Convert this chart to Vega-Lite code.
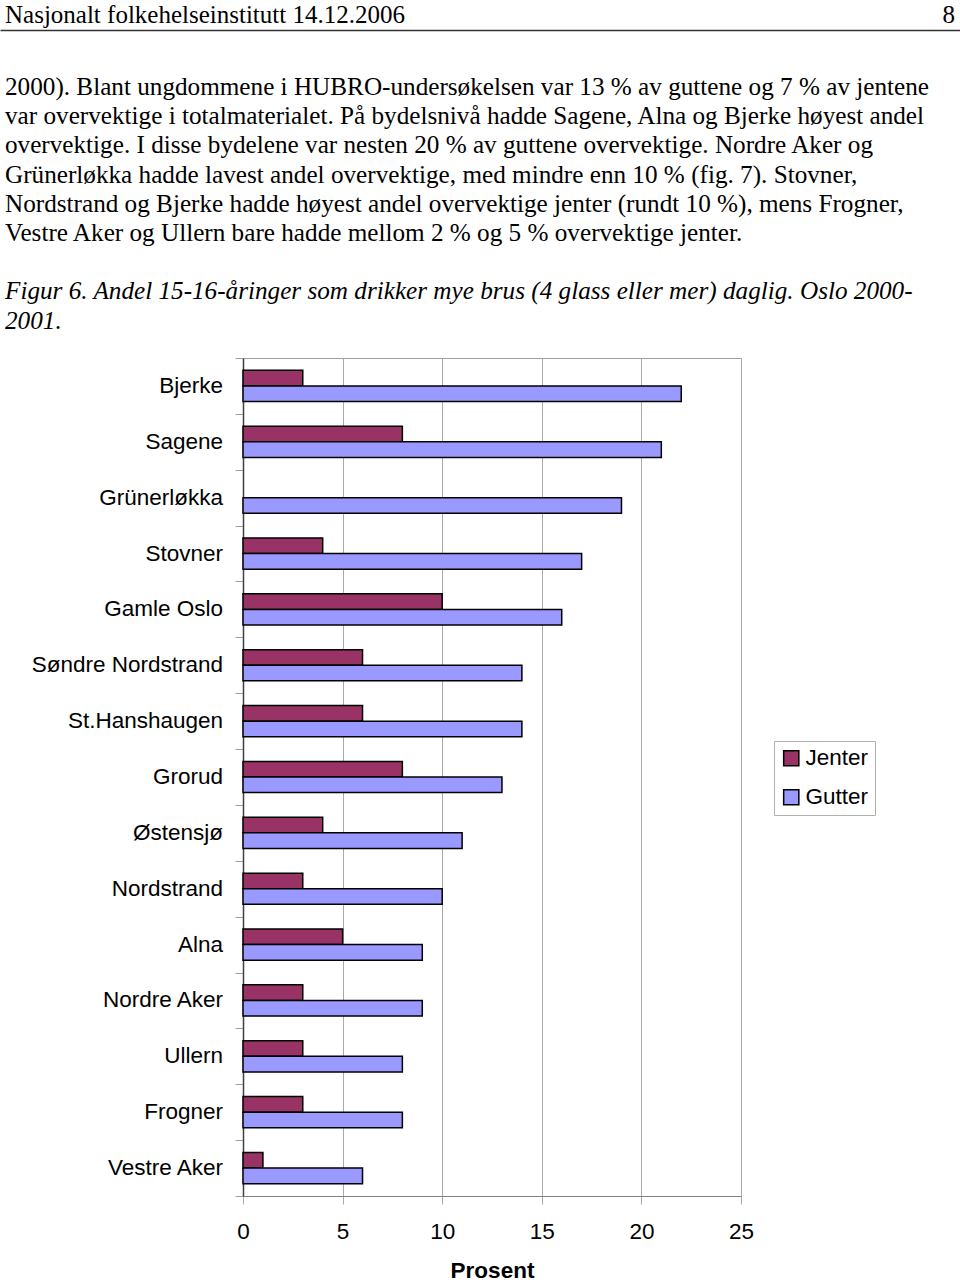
{
  "$schema": "https://vega.github.io/schema/vega-lite/v6.json",
  "padding": 0,
  "spacing": 0,
  "background": "white",
  "config": {"view": {"stroke": null}, "font": "Liberation Sans"},
  "datasets": {
    "tekst": [
      {"del": "topptekst", "side": "venstre", "linje": 0, "tekst": "Nasjonalt folkehelseinstitutt 14.12.2006"},
      {"del": "topptekst", "side": "høyre", "linje": 0, "tekst": "8"},
      {"del": "brødtekst", "side": "venstre", "linje": 1, "tekst": "2000). Blant ungdommene i HUBRO-undersøkelsen var 13 % av guttene og 7 % av jentene"},
      {"del": "brødtekst", "side": "venstre", "linje": 2, "tekst": "var overvektige i totalmaterialet. På bydelsnivå hadde Sagene, Alna og Bjerke høyest andel"},
      {"del": "brødtekst", "side": "venstre", "linje": 3, "tekst": "overvektige. I disse bydelene var nesten 20 % av guttene overvektige. Nordre Aker og"},
      {"del": "brødtekst", "side": "venstre", "linje": 4, "tekst": "Grünerløkka hadde lavest andel overvektige, med mindre enn 10 % (fig. 7). Stovner,"},
      {"del": "brødtekst", "side": "venstre", "linje": 5, "tekst": "Nordstrand og Bjerke hadde høyest andel overvektige jenter (rundt 10 %), mens Frogner,"},
      {"del": "brødtekst", "side": "venstre", "linje": 6, "tekst": "Vestre Aker og Ullern bare hadde mellom 2 % og 5 % overvektige jenter."},
      {"del": "figurtekst", "side": "venstre", "linje": 8, "tekst": "Figur 6.  Andel 15-16-åringer som drikker mye brus (4 glass eller mer) daglig. Oslo 2000-"},
      {"del": "figurtekst", "side": "venstre", "linje": 9, "tekst": "2001."}
    ],
    "brus": [
      {"bydel": "Bjerke", "kjønn": "Jenter", "prosent": 3},
      {"bydel": "Bjerke", "kjønn": "Gutter", "prosent": 22},
      {"bydel": "Sagene", "kjønn": "Jenter", "prosent": 8},
      {"bydel": "Sagene", "kjønn": "Gutter", "prosent": 21},
      {"bydel": "Grünerløkka", "kjønn": "Gutter", "prosent": 19},
      {"bydel": "Stovner", "kjønn": "Jenter", "prosent": 4},
      {"bydel": "Stovner", "kjønn": "Gutter", "prosent": 17},
      {"bydel": "Gamle Oslo", "kjønn": "Jenter", "prosent": 10},
      {"bydel": "Gamle Oslo", "kjønn": "Gutter", "prosent": 16},
      {"bydel": "Søndre Nordstrand", "kjønn": "Jenter", "prosent": 6},
      {"bydel": "Søndre Nordstrand", "kjønn": "Gutter", "prosent": 14},
      {"bydel": "St.Hanshaugen", "kjønn": "Jenter", "prosent": 6},
      {"bydel": "St.Hanshaugen", "kjønn": "Gutter", "prosent": 14},
      {"bydel": "Grorud", "kjønn": "Jenter", "prosent": 8},
      {"bydel": "Grorud", "kjønn": "Gutter", "prosent": 13},
      {"bydel": "Østensjø", "kjønn": "Jenter", "prosent": 4},
      {"bydel": "Østensjø", "kjønn": "Gutter", "prosent": 11},
      {"bydel": "Nordstrand", "kjønn": "Jenter", "prosent": 3},
      {"bydel": "Nordstrand", "kjønn": "Gutter", "prosent": 10},
      {"bydel": "Alna", "kjønn": "Jenter", "prosent": 5},
      {"bydel": "Alna", "kjønn": "Gutter", "prosent": 9},
      {"bydel": "Nordre Aker", "kjønn": "Jenter", "prosent": 3},
      {"bydel": "Nordre Aker", "kjønn": "Gutter", "prosent": 9},
      {"bydel": "Ullern", "kjønn": "Jenter", "prosent": 3},
      {"bydel": "Ullern", "kjønn": "Gutter", "prosent": 8},
      {"bydel": "Frogner", "kjønn": "Jenter", "prosent": 3},
      {"bydel": "Frogner", "kjønn": "Gutter", "prosent": 8},
      {"bydel": "Vestre Aker", "kjønn": "Jenter", "prosent": 1},
      {"bydel": "Vestre Aker", "kjønn": "Gutter", "prosent": 6}
    ]
  },
  "resolve": {"scale": {"x": "independent", "y": "independent", "color": "independent"}},
  "vconcat": [
    {
      "width": 960,
      "height": 30,
      "data": {"name": "tekst"},
      "transform": [{"filter": "datum.del == 'topptekst'"}],
      "encoding": {
        "x": {
          "field": "side",
          "type": "nominal",
          "scale": {"type": "point", "domain": ["venstre", "høyre"], "padding": 0},
          "axis": {"orient": "bottom", "domain": true, "domainColor": "#333333", "domainWidth": 1.5, "ticks": false, "labels": false, "title": null, "grid": false}
        },
        "text": {"field": "tekst"}
      },
      "layer": [
        {
          "transform": [{"filter": "datum.side == 'venstre'"}],
          "mark": {"type": "text", "align": "left", "baseline": "middle", "dx": 5, "font": "Liberation Serif", "fontSize": 25, "color": "#000000"}
        },
        {
          "transform": [{"filter": "datum.side == 'høyre'"}],
          "mark": {"type": "text", "align": "right", "baseline": "middle", "dx": -5, "font": "Liberation Serif", "fontSize": 25, "color": "#000000"}
        }
      ]
    },
    {
      "width": 960,
      "height": 327,
      "data": {"name": "tekst"},
      "transform": [{"filter": "datum.del != 'topptekst'"}],
      "encoding": {
        "x": {"field": "side", "type": "nominal", "scale": {"type": "point", "domain": ["venstre", "høyre"], "padding": 0}, "axis": null},
        "y": {"field": "linje", "type": "quantitative", "scale": {"domain": [-0.95, 10.25], "reverse": true, "nice": false, "zero": false}, "axis": null},
        "text": {"field": "tekst"}
      },
      "layer": [
        {
          "transform": [{"filter": "datum.del == 'brødtekst'"}],
          "mark": {"type": "text", "align": "left", "baseline": "middle", "dx": 5, "font": "Liberation Serif", "fontSize": 25.2, "color": "#000000"}
        },
        {
          "transform": [{"filter": "datum.del == 'figurtekst'"}],
          "mark": {"type": "text", "align": "left", "baseline": "middle", "dx": 5, "font": "Liberation Serif", "fontSize": 25.2, "fontStyle": "italic", "color": "#000000"}
        }
      ]
    },
    {
      "spacing": 11,
      "resolve": {"scale": {"x": "independent", "y": "independent", "color": "independent"}},
      "hconcat": [
        {
          "width": 223,
          "height": 838,
          "data": {"name": "brus"},
          "transform": [{"filter": "datum['kjønn'] == 'Gutter'"}],
          "mark": {"type": "text", "align": "right", "baseline": "middle", "font": "Liberation Sans", "fontSize": 22.5, "color": "#000000"},
          "encoding": {
            "x": {"value": "width"},
            "y": {
              "field": "bydel",
              "type": "nominal",
              "sort": ["Bjerke", "Sagene", "Grünerløkka", "Stovner", "Gamle Oslo", "Søndre Nordstrand", "St.Hanshaugen", "Grorud", "Østensjø", "Nordstrand", "Alna", "Nordre Aker", "Ullern", "Frogner", "Vestre Aker"],
              "scale": {"paddingInner": 0, "paddingOuter": 0},
              "axis": null
            },
            "text": {"field": "bydel"}
          }
        },
        {
          "width": 498,
          "height": 838,
          "view": {"stroke": "#a0a0a0"},
          "data": {"name": "brus"},
          "mark": {"type": "bar", "stroke": "#000000", "strokeWidth": 1.5},
          "encoding": {
            "y": {
              "field": "bydel",
              "type": "nominal",
              "sort": ["Bjerke", "Sagene", "Grünerløkka", "Stovner", "Gamle Oslo", "Søndre Nordstrand", "St.Hanshaugen", "Grorud", "Østensjø", "Nordstrand", "Alna", "Nordre Aker", "Ullern", "Frogner", "Vestre Aker"],
              "scale": {"paddingInner": 0, "paddingOuter": 0},
              "axis": {"labels": false, "ticks": true, "tickBand": "extent", "tickSize": 8, "tickColor": "#a0a0a0", "domainColor": "#404040", "domainWidth": 1.5, "title": null, "grid": false}
            },
            "yOffset": {"field": "kjønn", "sort": ["Jenter", "Gutter"], "scale": {"paddingInner": 0, "paddingOuter": 0.79}},
            "x": {
              "field": "prosent",
              "type": "quantitative",
              "scale": {"domain": [0, 25], "nice": false},
              "axis": {"values": [0, 5, 10, 15, 20, 25], "grid": true, "gridColor": "#aaaaaa", "tickSize": 8, "tickColor": "#aaaaaa", "domainColor": "#808080", "labelFont": "Liberation Sans", "labelFontSize": 22.5, "labelColor": "#000000", "labelPadding": 16, "labelFlush": false, "title": "Prosent", "titleFont": "Liberation Sans", "titleFontSize": 22.5, "titleFontWeight": "bold", "titleColor": "#000000", "titlePadding": 17}
            },
            "color": {
              "field": "kjønn",
              "type": "nominal",
              "scale": {"domain": ["Jenter", "Gutter"], "range": ["#993366", "#9999ff"]},
              "legend": {"orient": "none", "legendX": 531, "legendY": 383, "title": null, "strokeColor": "#b0b0b0", "padding": 6, "symbolType": "square", "symbolSize": 230, "symbolStrokeColor": "#000000", "symbolStrokeWidth": 1.5, "symbolOpacity": 1, "labelFont": "Liberation Sans", "labelFontSize": 22.5, "labelColor": "#000000", "labelOffset": 3, "rowPadding": 16}
            }
          }
        }
      ]
    }
  ]
}
